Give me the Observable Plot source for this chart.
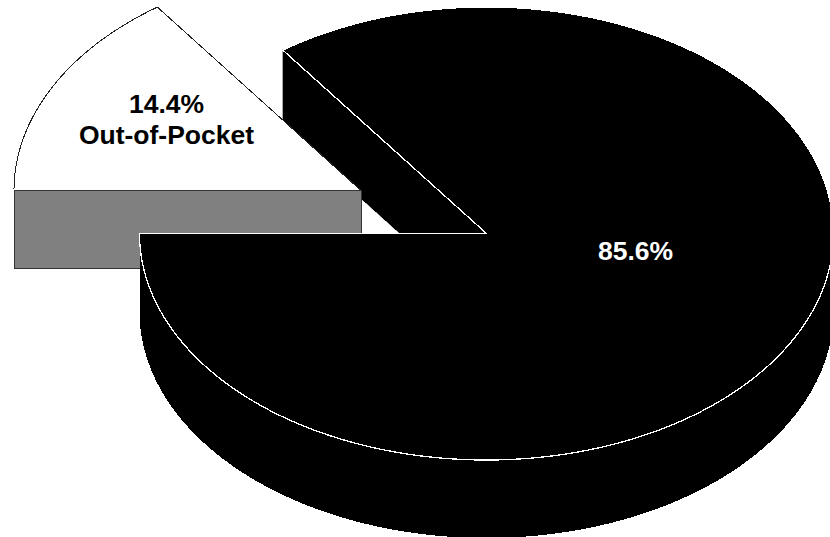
<!DOCTYPE html>
<html>
<head>
<meta charset="utf-8">
<script src="https://cdn.jsdelivr.net/npm/d3@7"></script>
<script src="https://cdn.jsdelivr.net/npm/@observablehq/plot@0.6"></script>
<style>
  html, body { margin: 0; padding: 0; background: #fff; }
  svg { display: block; }
</style>
</head>
<body>
<script>
// Shares of spending, in percent.
const categories = ["Out-of-Pocket", "Other"];
const shares = [14.4, 85.6];

// Tilted pie layout.
const width = 830, height = 537;
const cx = 486, cy = 233, rx = 347, ry = 226.5, depth = 78;
const explode = {dx: -125.5, dy: -43};
const tiltStretch = 1.084; // foreshortening of cut angles on the tilted disc

const rad = Math.PI / 180;
const cutAngle = Math.atan(Math.tan((shares[0] * 3.6) * rad) * tiltStretch);
const onRim = (t, ox = 0, oy = 0) => ({x: cx + ox - rx * Math.cos(t), y: cy + oy - ry * Math.sin(t)});
const arc = (t0, t1, ox = 0, oy = 0) => {
  const n = Math.ceil(Math.abs(t1 - t0) / (0.5 * rad));
  return d3.range(n + 1).map(i => onRim(t0 + (t1 - t0) * i / n, ox, oy));
};
const hub = (ox = 0, oy = 0) => ({x: cx + ox, y: cy + oy});

// Detached slice: top face and its straight front wall.
const sliceTop = [hub(explode.dx, explode.dy), ...arc(0, cutAngle, explode.dx, explode.dy)];
const sliceFront = [
  hub(explode.dx, explode.dy),
  onRim(0, explode.dx, explode.dy),
  onRim(0, explode.dx, explode.dy + depth),
  hub(explode.dx, explode.dy + depth)
];

// Main body: cut wall, outer side, and top face.
const bodyStart = cutAngle, bodyEnd = 2 * Math.PI;
const wall = [onRim(bodyStart), onRim(bodyStart, 0, depth), hub(0, depth), hub()];
const side = [...arc(Math.PI, bodyEnd), ...arc(bodyEnd, Math.PI, 0, depth)];
const bodyTop = [hub(), ...arc(bodyStart, bodyEnd)];

const face = (points, options) =>
  Plot.line(points, {x: "x", y: "y", curve: "linear-closed", shapeRendering: "crispEdges", ...options});

const chart = Plot.plot({
  width, height,
  margin: 0,
  x: {domain: [0, width], range: [0, width], axis: null},
  y: {domain: [0, height], range: [0, height], axis: null},
  style: {background: "#fff", overflow: "hidden"},
  marks: [
    face(wall, {fill: "#000", stroke: "#000", strokeWidth: 0.5}),
    face(sliceTop, {fill: "#fff", stroke: "#222", strokeWidth: 1}),
    face(sliceFront, {fill: "#808080", stroke: "#333", strokeWidth: 1}),
    face(side, {fill: "#000"}),
    face(bodyTop, {fill: "#000", stroke: "#fff", strokeWidth: 1.3}),
    Plot.text([`${shares[0]}%\n${categories[0]}`], {
      x: [166], y: [118], text: d => d,
      fontSize: 26.5, fontWeight: "bold", fontFamily: "Liberation Sans", lineHeight: 1.19, fill: "#000"
    }),
    Plot.text([`${shares[1]}%`], {
      x: [635], y: [251], text: d => d,
      fontSize: 26.5, fontWeight: "bold", fontFamily: "Liberation Sans", fill: "#fff"
    })
  ]
});
document.body.appendChild(chart);
</script>
</body>
</html>
